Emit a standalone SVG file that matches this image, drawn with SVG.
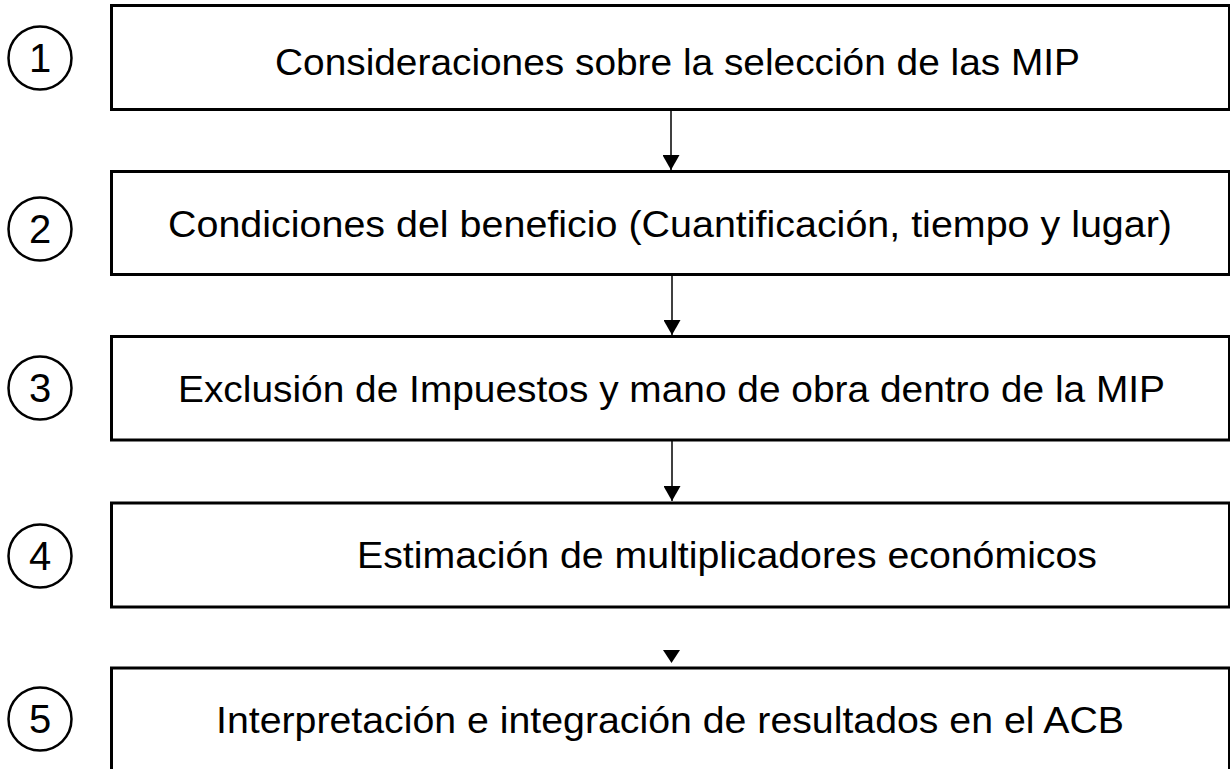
<svg xmlns="http://www.w3.org/2000/svg" width="1230" height="769" viewBox="0 0 1230 769">
<style>
.box{fill:#fff;stroke:#000;stroke-width:3}
.circ{fill:none;stroke:#000;stroke-width:2.5}
.t{font-family:"Liberation Sans",Arial,sans-serif;font-size:37px;fill:#000}
.n{font-family:"Liberation Sans",Arial,sans-serif;font-size:40px;fill:#000;text-anchor:middle}
.c{stroke:#000;stroke-width:1.5;fill:none}
</style>
<defs>
<marker id="ah" markerWidth="15" markerHeight="17" refX="15" refY="8.5" orient="auto" markerUnits="userSpaceOnUse" viewBox="0 0 15 17">
<path d="M0,0 L15,8.5 L0,17 Z" fill="#000"/>
</marker>
</defs>
<rect width="1230" height="769" fill="#fff"/>
<g id="node1">
<rect class="box" x="111.5" y="5.5" width="1118" height="104"/>
<text class="t" x="275" y="75" textLength="805" lengthAdjust="spacingAndGlyphs">Consideraciones sobre la selección de las MIP</text>
<circle class="circ" cx="40" cy="58" r="31.5"/>
<text class="n" x="40" y="72">1</text>
</g>
<g id="node2">
<rect class="box" x="111.5" y="171.5" width="1118" height="103"/>
<text class="t" x="168" y="237" textLength="1004" lengthAdjust="spacingAndGlyphs">Condiciones del beneficio (Cuantificación, tiempo y lugar)</text>
<circle class="circ" cx="40" cy="229" r="31.5"/>
<text class="n" x="40" y="243">2</text>
</g>
<g id="node3">
<rect class="box" x="111.5" y="336.5" width="1118" height="103.5"/>
<text class="t" x="178" y="402" textLength="987" lengthAdjust="spacingAndGlyphs">Exclusión de Impuestos y mano de obra dentro de la MIP</text>
<circle class="circ" cx="40" cy="388" r="31.5"/>
<text class="n" x="40" y="402">3</text>
</g>
<g id="node4">
<rect class="box" x="111.5" y="503" width="1118" height="104"/>
<text class="t" x="357" y="568" textLength="740" lengthAdjust="spacingAndGlyphs">Estimación de multiplicadores económicos</text>
<circle class="circ" cx="40" cy="556" r="31.5"/>
<text class="n" x="40" y="570">4</text>
</g>
<g id="node5">
<rect class="box" x="111.5" y="668" width="1118" height="120"/>
<text class="t" x="216" y="733" textLength="908" lengthAdjust="spacingAndGlyphs">Interpretación e integración de resultados en el ACB</text>
<circle class="circ" cx="40" cy="719" r="31.5"/>
<text class="n" x="40" y="733">5</text>
</g>
<g id="connectors">
<line class="c" x1="671" y1="111" x2="671" y2="170" marker-end="url(#ah)"/>
<line class="c" x1="672" y1="276" x2="672" y2="335" marker-end="url(#ah)"/>
<line class="c" x1="672" y1="441" x2="672" y2="501" marker-end="url(#ah)"/>
<path d="M663,650 L680,650 L671.5,663 Z" fill="#000"/>
</g>
</svg>
